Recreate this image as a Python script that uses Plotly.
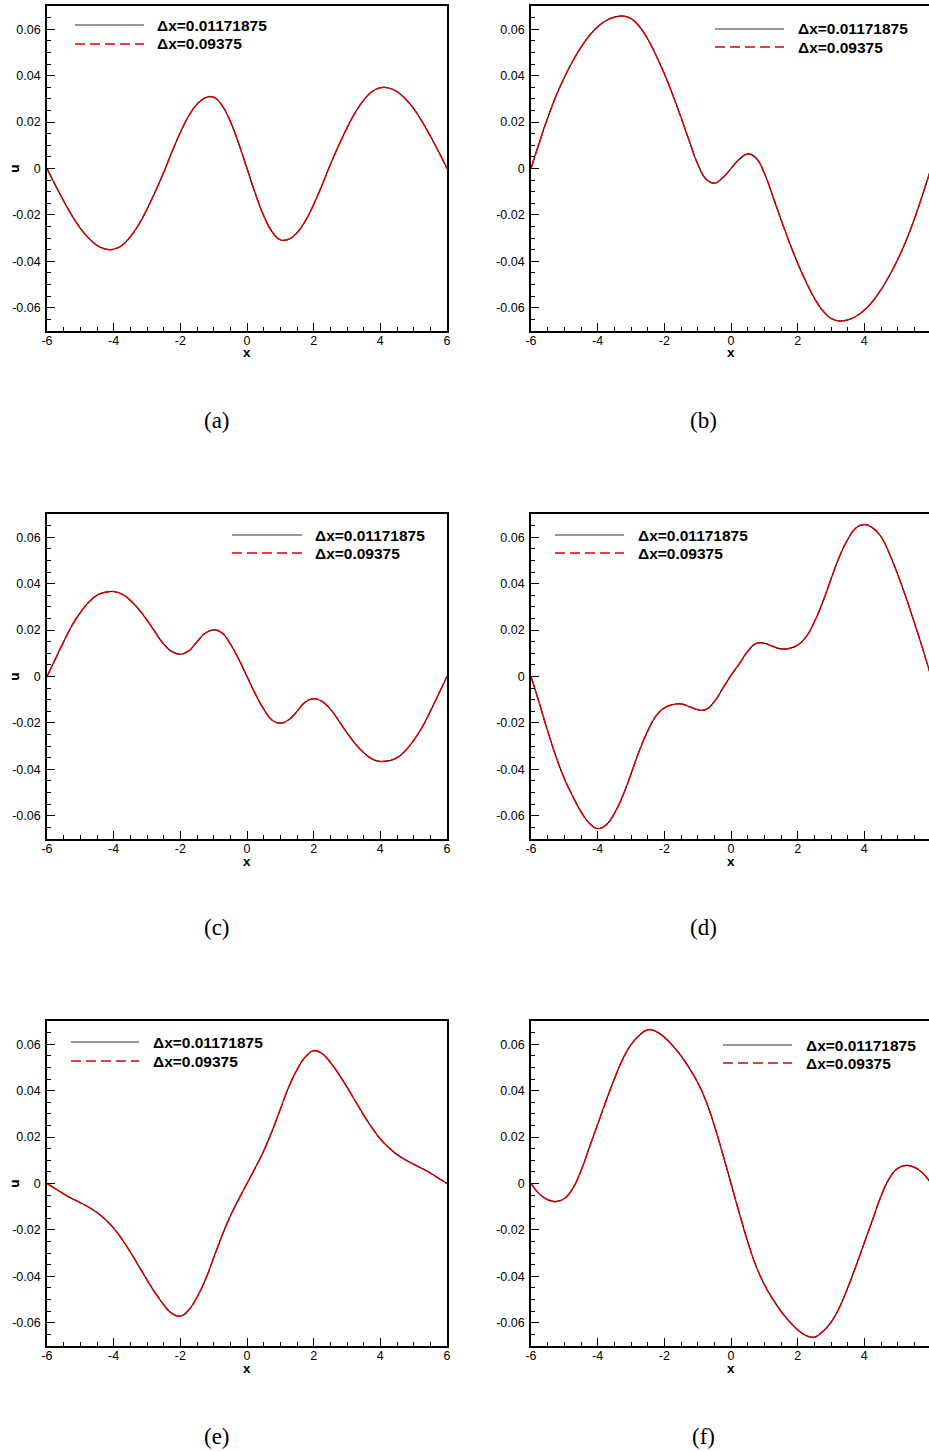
import plotly.graph_objects as go

# ---------------- data ----------------
x_vals = [-6.0, -5.75, -5.5, -5.25, -5.0, -4.75, -4.5, -4.25, -4.0, -3.75, -3.5, -3.25,
          -3.0, -2.75, -2.5, -2.25, -2.0, -1.75, -1.5, -1.25, -1.0, -0.75, -0.5, -0.25,
          0.0, 0.25, 0.5, 0.75, 1.0, 1.25, 1.5, 1.75, 2.0, 2.25, 2.5, 2.75,
          3.0, 3.25, 3.5, 3.75, 4.0, 4.25, 4.5, 4.75, 5.0, 5.25, 5.5, 5.75, 6.0]

u_a = [0.0, -0.0072, -0.0140, -0.0203, -0.0258, -0.0300, -0.0331, -0.0347, -0.0348, -0.0331,
       -0.0294, -0.0242, -0.0175, -0.0099, -0.0017, 0.0072, 0.0155, 0.0226, 0.0277, 0.0305,
       0.0307, 0.0272, 0.0203, 0.0108, 0.0, -0.0108, -0.0203, -0.0272, -0.0307, -0.0305,
       -0.0277, -0.0226, -0.0155, -0.0072, 0.0017, 0.0099, 0.0175, 0.0242, 0.0294, 0.0331,
       0.0348, 0.0347, 0.0331, 0.0300, 0.0258, 0.0203, 0.0140, 0.0072, 0.0]

u_b = [0.0, 0.0112, 0.0218, 0.0312, 0.0392, 0.0462, 0.0522, 0.0572, 0.0610, 0.0637,
       0.0652, 0.0657, 0.0646, 0.0612, 0.0558, 0.0488, 0.0408, 0.0318, 0.0220, 0.0118,
       0.0020, -0.0045, -0.0063, -0.0040, 0.0, 0.0040, 0.0063, 0.0045, -0.0020, -0.0118,
       -0.0220, -0.0318, -0.0408, -0.0488, -0.0558, -0.0612, -0.0646, -0.0657, -0.0652, -0.0637,
       -0.0610, -0.0572, -0.0522, -0.0462, -0.0392, -0.0312, -0.0218, -0.0112, 0.0]

u_c = [0.0, 0.0075, 0.0150, 0.0220, 0.0275, 0.0320, 0.0350, 0.0363, 0.0366, 0.0355,
       0.0328, 0.0290, 0.0243, 0.0190, 0.0140, 0.0107, 0.0096, 0.0110, 0.0150, 0.0187,
       0.0201, 0.0188, 0.0140, 0.0075, 0.0, -0.0075, -0.0140, -0.0188, -0.0201, -0.0187,
       -0.0150, -0.0110, -0.0096, -0.0107, -0.0140, -0.0190, -0.0243, -0.0290, -0.0328, -0.0355,
       -0.0366, -0.0363, -0.0350, -0.0320, -0.0275, -0.0220, -0.0150, -0.0075, 0.0]

u_d = [0.0, -0.0115, -0.0235, -0.0345, -0.0440, -0.0515, -0.0582, -0.0632, -0.0655, -0.0640,
       -0.0590, -0.0515, -0.0420, -0.0320, -0.0235, -0.0170, -0.0135, -0.0121, -0.0118, -0.0130,
       -0.0143, -0.0142, -0.0108, -0.0052, 0.0005, 0.0055, 0.0108, 0.0142, 0.0143, 0.0130,
       0.0119, 0.0121, 0.0135, 0.0170, 0.0235, 0.0320, 0.0420, 0.0515, 0.0590, 0.0640,
       0.0655, 0.0640, 0.0603, 0.0530, 0.0440, 0.0340, 0.0232, 0.0120, 0.0]

u_e = [0.0, -0.0022, -0.0045, -0.0065, -0.0083, -0.0102, -0.0125, -0.0155, -0.0192, -0.0240,
       -0.0295, -0.0355, -0.0415, -0.0472, -0.0522, -0.0560, -0.0572, -0.0545, -0.0490, -0.0415,
       -0.0320, -0.0225, -0.0140, -0.0068, 0.0, 0.0068, 0.0140, 0.0225, 0.0320, 0.0415,
       0.0490, 0.0545, 0.0572, 0.0560, 0.0522, 0.0472, 0.0415, 0.0355, 0.0295, 0.0240,
       0.0192, 0.0155, 0.0125, 0.0102, 0.0083, 0.0065, 0.0045, 0.0022, 0.0]

u_f = [0.0, -0.0045, -0.0070, -0.0078, -0.0065, -0.0022, 0.0055, 0.0155, 0.0255, 0.0355,
       0.0450, 0.0535, 0.0598, 0.0638, 0.0662, 0.0655, 0.0630, 0.0594, 0.0550, 0.0497,
       0.0435, 0.0355, 0.0250, 0.0128, 0.0, -0.0128, -0.0250, -0.0355, -0.0435, -0.0497,
       -0.0550, -0.0594, -0.0630, -0.0655, -0.0662, -0.0638, -0.0598, -0.0535, -0.0450, -0.0355,
       -0.0255, -0.0155, -0.0055, 0.0022, 0.0065, 0.0078, 0.0070, 0.0045, 0.0]

series_names = ["\u0394x=0.01171875", "\u0394x=0.09375"]
panel_labels = ["(a)", "(b)", "(c)", "(d)", "(e)", "(f)"]
x_tickvals = [-6, -4, -2, 0, 2, 4, 6]
x_ticktext = ["-6", "-4", "-2", "0", "2", "4", "6"]
y_tickvals = [-0.06, -0.04, -0.02, 0, 0.02, 0.04, 0.06]
y_ticktext = ["-0.06", "-0.04", "-0.02", "0", "0.02", "0.04", "0.06"]
panel_data = [u_a, u_b, u_c, u_d, u_e, u_f]

# ---------------- layout geometry (pixels) ----------------
W, H = 929, 1451
PW, PH = 400, 325
lefts = [47, 531, 47, 531, 47, 531]
tops = [6, 6, 514, 514, 1021, 1021]
# legend: (line start, line end, text start) relative to panel left; rows rel. to panel top
legend_pos = [(28, 97, 108, 19, 38), (184, 253, 265, 23, 41), (185, 255, 266, 21, 39),
              (24, 93, 105, 21, 39), (24, 92, 104, 21, 40), (192, 261, 273, 24, 42)]
label_pos = [(217, 420), (703, 420), (217, 928), (703, 928), (217, 1436), (703, 1436)]


def px(xp):
    return xp / W


def py(yp):
    return 1 - yp / H


TICKFONT = dict(family="Liberation Sans, Arial, sans-serif", size=12.5, color="black")
BOLD = "Liberation Sans, Arial, sans-serif"

fig = go.Figure()
shapes = []
annotations = []
layout_axes = {}

for i in range(6):
    n = "" if i == 0 else str(i + 1)
    xa, ya = "x" + n, "y" + n
    left, top = lefts[i], tops[i]
    right = min(left + PW, W)
    xmax = -6 + (right - left) / PW * 12
    u = panel_data[i]

    fig.add_trace(go.Scatter(x=x_vals, y=u, mode="lines", xaxis=xa, yaxis=ya,
                             name=series_names[0], showlegend=False,
                             line=dict(color="black", width=1.1, shape="spline", smoothing=1.3)))
    fig.add_trace(go.Scatter(x=x_vals, y=u, mode="lines", xaxis=xa, yaxis=ya,
                             name=series_names[1], showlegend=False,
                             line=dict(color="#e00000", width=1.5, dash="12px,2px",
                                       shape="spline", smoothing=1.3)))

    layout_axes["xaxis" + n] = dict(
        domain=[px(left), px(right)], anchor=ya, range=[-6, xmax], automargin=False,
        tickmode="array", tickvals=x_tickvals, ticktext=x_ticktext,
        ticks="inside", ticklen=8, tickwidth=1.3, tickcolor="black",
        minor=dict(tickmode="linear", tick0=-6, dtick=0.5, ticks="inside",
                   ticklen=4.5, tickwidth=1, tickcolor="black"),
        showline=True, linewidth=1.6, linecolor="black", mirror=True,
        showgrid=False, zeroline=False, tickfont=TICKFONT, ticklabelstandoff=-3,
    )
    layout_axes["yaxis" + n] = dict(
        domain=[py(top + PH), py(top)], anchor=xa, range=[-0.07, 0.07], automargin=False,
        tickmode="array", tickvals=y_tickvals, ticktext=y_ticktext,
        ticks="inside", ticklen=8, tickwidth=1.3, tickcolor="black",
        minor=dict(tickmode="linear", tick0=-0.07, dtick=0.005, ticks="inside",
                   ticklen=4.5, tickwidth=1, tickcolor="black"),
        showline=True, linewidth=1.6, linecolor="black", mirror=(right - left == PW),
        showgrid=False, zeroline=False, tickfont=TICKFONT, ticklabelstandoff=2,
    )

    # axis titles
    annotations.append(dict(x=px(14), y=py(top + PH / 2), xref="paper", yref="paper",
                            xanchor="center", yanchor="middle",
                            text="<b>u</b>", showarrow=False, textangle=-90,
                            font=dict(family=BOLD, size=13, color="black")))
    annotations.append(dict(x=px(left + PW / 2), y=py(top + PH + 22), xref="paper", yref="paper",
                            xanchor="center", yanchor="middle",
                            text="<b>x</b>", showarrow=False,
                            font=dict(family=BOLD, size=13.5, color="black")))

    # legend
    l0, l1, tx, r1, r2 = legend_pos[i]
    for k, (ry, col, dash, wdt) in enumerate([(r1, "#333333", "solid", 1.1),
                                              (r2, "#e00000", "10px,5px", 1.4)]):
        shapes.append(dict(type="line", xref="paper", yref="paper",
                           x0=px(left + l0), x1=px(left + l1),
                           y0=py(top + ry), y1=py(top + ry),
                           line=dict(color=col, width=wdt, dash=dash)))
        annotations.append(dict(x=px(left + tx), y=py(top + ry), xref="paper", yref="paper",
                                text="<b>" + series_names[k] + "</b>", showarrow=False,
                                xanchor="left", yanchor="middle",
                                font=dict(family=BOLD, size=15.5, color="black")))

    # panel label
    lx, ly = label_pos[i]
    annotations.append(dict(x=px(lx), y=py(ly), xref="paper", yref="paper",
                            xanchor="center", yanchor="middle",
                            text=panel_labels[i], showarrow=False,
                            font=dict(family="Liberation Serif, Times New Roman, serif",
                                      size=23, color="black")))

fig.update_layout(
    width=W, height=H, margin=dict(l=0, r=0, t=0, b=0, autoexpand=False),
    paper_bgcolor="white", plot_bgcolor="white", showlegend=False,
    shapes=shapes, annotations=annotations, **layout_axes,
)

fig.write_html("out.html")
